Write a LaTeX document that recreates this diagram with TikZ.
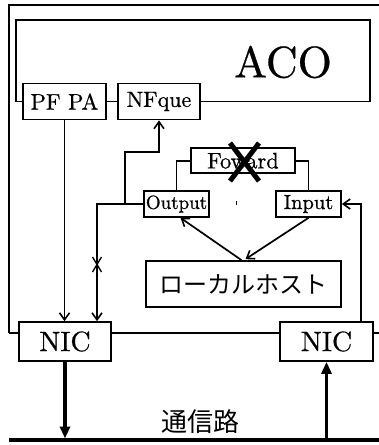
\documentclass[tikz,border=0pt]{standalone}
\usepackage{fontspec}
\setmainfont{lmroman10-regular.otf}[FakeBold=0.6]
\newfontfamily\jpfont{Noto Sans CJK JP}
\usetikzlibrary{arrows.meta,calc}
\newcommand\myfs[1]{\fontsize{#1}{#1}\selectfont}
\begin{document}
\begin{tikzpicture}[x=1pt,y=-1pt,
  box/.style={draw, line width=1.7pt, inner sep=0pt, rectangle, fill=white},
  ln/.style={line width=1.7pt},
  arr/.style={line width=1.7pt, -{Straight Barb[length=7pt,width=10pt,line width=1.6pt]}},
  tarr/.style={line width=3.4pt, -{Triangle[length=12pt,width=10pt]}}]
\useasboundingbox (0,0) rectangle (379,445);
% outer frame
\coordinate (fb) at (9,333);
\draw[ln] (379,5) -- (9,5) -- (fb);
% boxes
\node[box, minimum width=83pt, minimum height=36pt, font=\myfs{22.5}] (pfpa) at (64.5,101.5) {PF PA};
\node[box, minimum width=82pt, minimum height=36pt, font=\myfs{22}] (nfque) at (159,101.5) {NFque};
\node[box, minimum width=104pt, minimum height=25pt, font=\myfs{22.5}] (fwd) at (243,160.7) {Foward};
\node[box, minimum width=65pt, minimum height=26pt, font=\myfs{19}] (out) at (176.5,204) {Output};
\node[box, minimum width=65pt, minimum height=26pt, font=\myfs{20.5}] (in) at (308.5,204) {Input};
\node[box, minimum width=195pt, minimum height=46pt, font=\jpfont\myfs{24}] (loc) at (243.5,284) {ローカルホスト};
\node[box, minimum width=92pt, minimum height=39pt, font=\myfs{28}] (nicl) at (65,341.5) {NIC};
\node[box, minimum width=93pt, minimum height=39pt, font=\myfs{28}] (nicr) at (326.5,341.5) {NIC};
\node[font=\myfs{44}] (aco) at (283,62) {ACO};
\node[font=\jpfont\myfs{26}] (bus) at (200,422) {通信路};
% ACO box
\draw[ln] (pfpa.west) -- (16,101.5) -- (16,20) -- (370,20) -- (370,101.5) -- (nfque.east);
\draw[ln] (pfpa.east) -- (nfque.west);
% frame bottom
\draw[ln] (fb) -- (fb -| nicl.west);
\draw[ln] (fb -| nicl.east) -- (fb -| nicr.west);
\draw[ln] (fb -| nicr.east) -- (379,333);
% connectors
\draw[arr] (pfpa.south) -- (pfpa.south |- nicl.north);
\coordinate (a1) at (97,204);
\draw[arr] (out.west) -- (a1) -- (a1 |- nicl.north);
\coordinate (b1) at (125,204);
\coordinate (b2) at (125,152);
\draw[arr] (b1) -- (b2) -| (nfque.south);
\draw[ln] (fwd.west) -| (out.north);
\draw[ln] (fwd.east) -| (in.north);
\coordinate (c1) at (361,204);
\draw[arr] (c1 |- nicr.north) -- (c1) -- (in.east);
\draw[arr] ($(loc.north)+(-2,0)$) -- ($(out.south)+(4,0)$);
\draw[arr] (in.south) -- ($(loc.north)+(2,-1)$);
% crosses
\draw[line width=1.3pt] (92.5,257) -- (101.5,272) (101.5,257) -- (92.5,272);
\draw[line width=5pt] (230,143) -- (259,181) (259,143) -- (230,181);
\draw[line width=1pt] (236.5,201) -- (236.5,205);
% bus
\coordinate (busl) at (9,440);
\coordinate (busr) at (379,440);
\draw[line width=3.5pt] (busl) -- (busr);
\draw[tarr] (nicl.south) -- ($(nicl.south |- busl)+(0,-1.5)$);
\draw[tarr] ($(busr -| nicr.south)+(0,-1.5)$) -- (nicr.south);
\end{tikzpicture}
\end{document}
